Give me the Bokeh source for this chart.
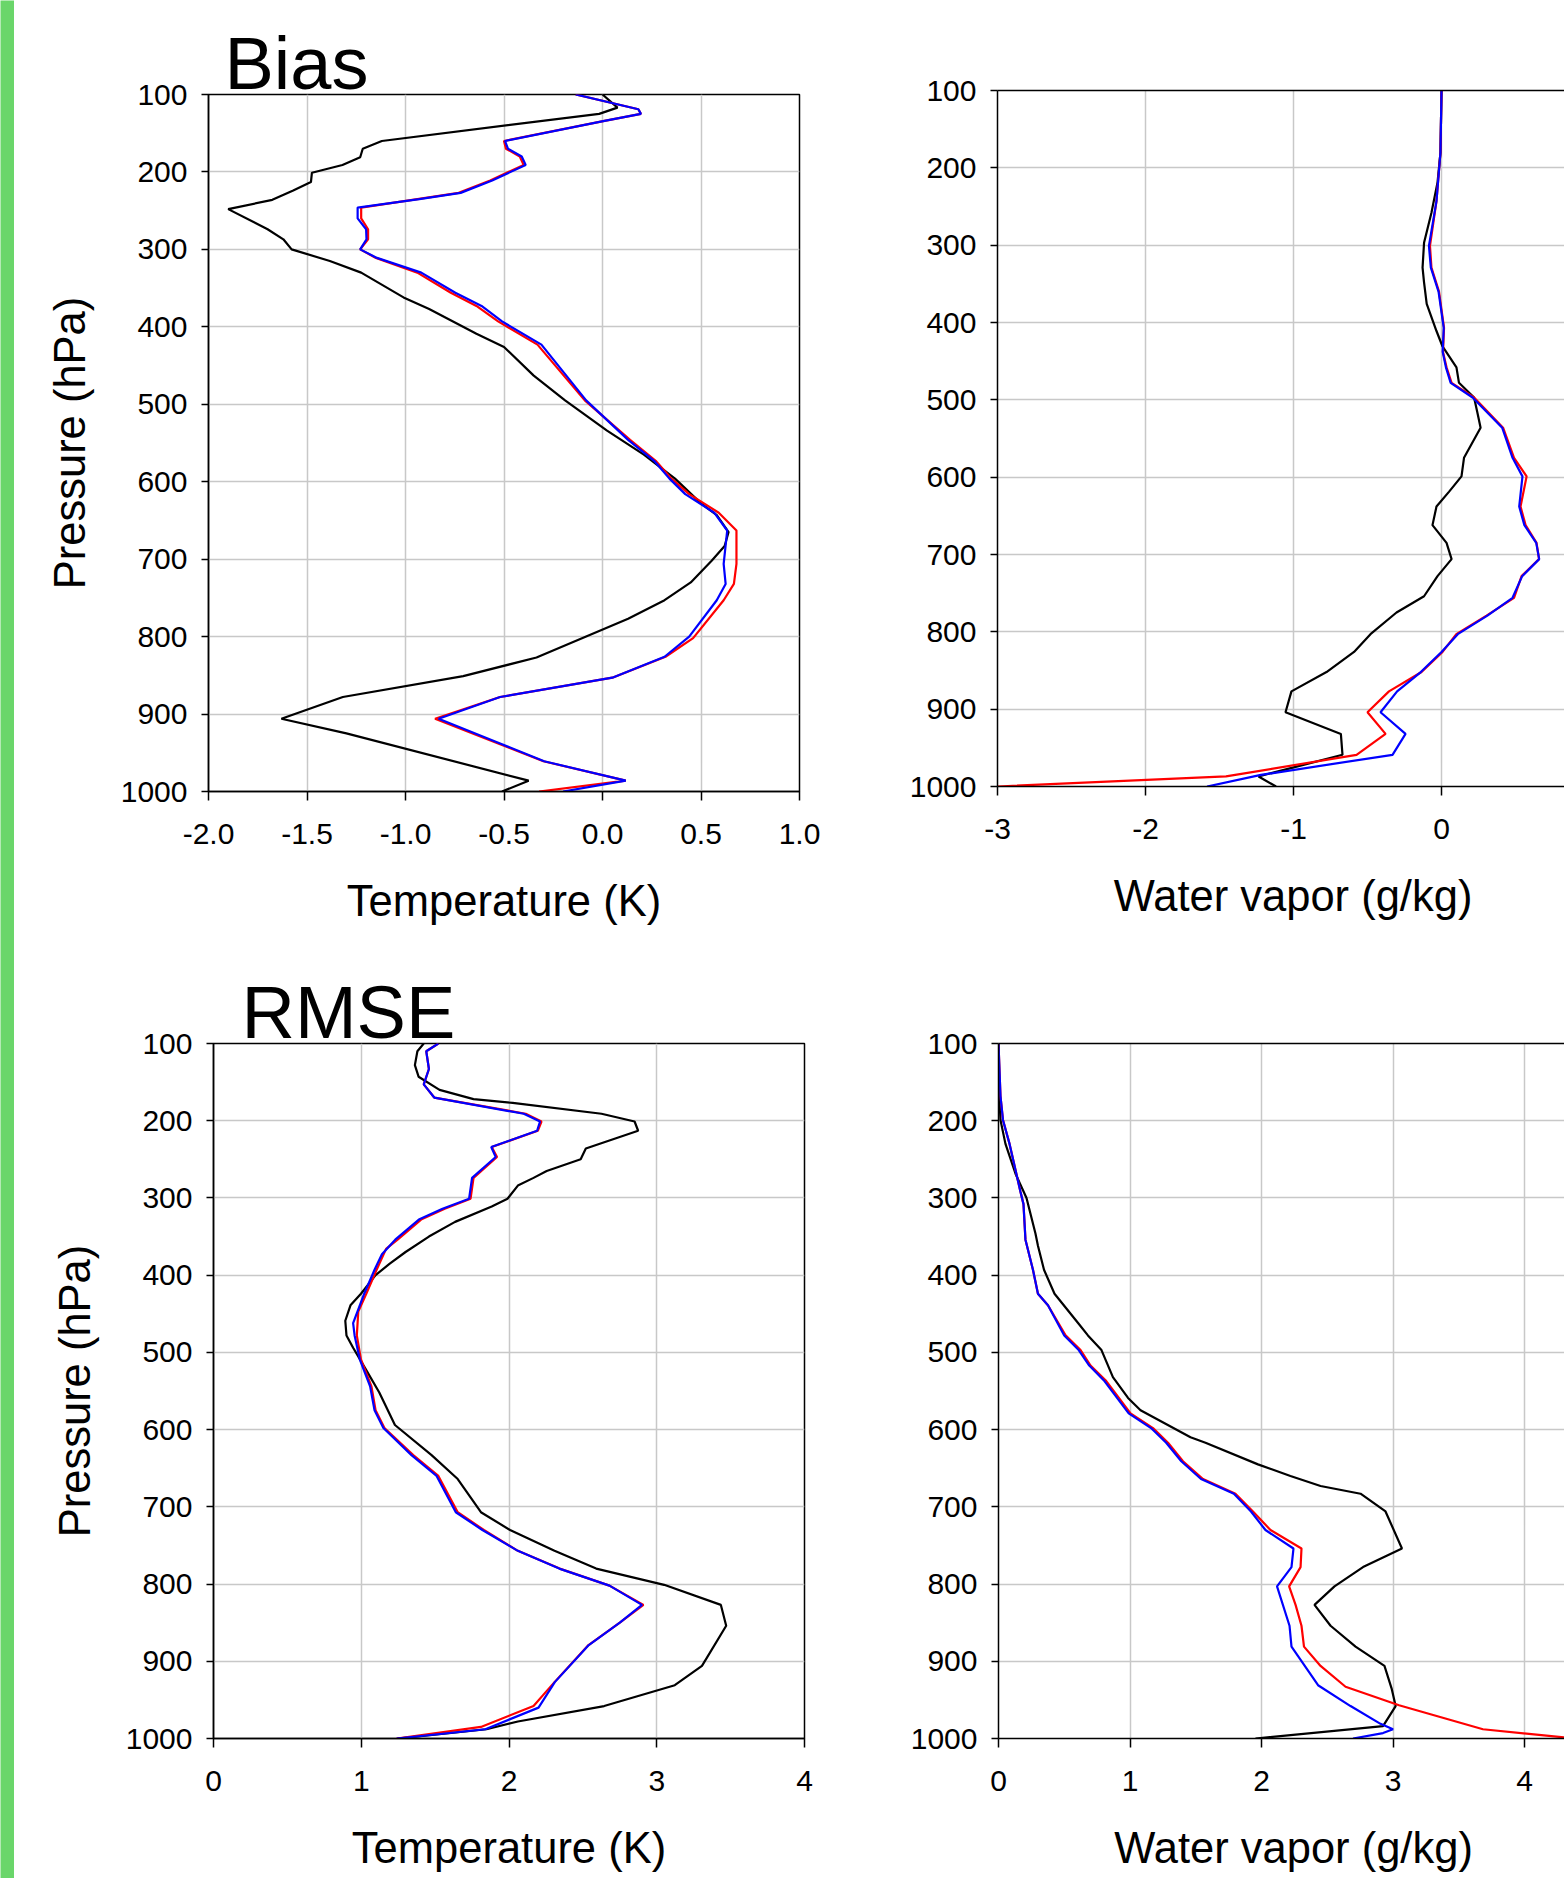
from bokeh.plotting import figure
from bokeh.models import Range1d, FixedTicker, LinearAxis, PrintfTickFormatter
from bokeh.layouts import row, column
from bokeh.embed import file_html
from bokeh.resources import INLINE

FONT = "Liberation Sans"
P_TICKS = [100, 200, 300, 400, 500, 600, 700, 800, 900, 1000]

# ---------------- Bias, temperature (K) ----------------
bt_black_p = [100, 117, 125, 160, 170, 181, 191, 201, 213, 224, 236, 248, 274, 287, 300, 315, 330, 362, 377, 409, 426, 463, 495, 534, 565, 596, 628, 643, 665, 683, 702, 730, 753, 777, 800, 827, 851, 878, 906, 925, 986, 1000]
bt_black_x = [0.0, 0.076, -0.017, -1.12, -1.217, -1.23, -1.32, -1.475, -1.48, -1.57, -1.676, -1.90, -1.70, -1.62, -1.578, -1.384, -1.225, -1.01, -0.88, -0.64, -0.50, -0.349, -0.19, 0.023, 0.21, 0.368, 0.50, 0.58, 0.64, 0.62, 0.554, 0.448, 0.315, 0.13, -0.083, -0.335, -0.707, -1.318, -1.63, -1.30, -0.375, -0.51]
bt_red_p = [100, 119, 125, 134, 160, 170, 180, 191, 211, 227, 235, 246, 260, 274, 287, 300, 311, 330, 356, 373, 393, 423, 495, 546, 573, 596, 616, 640, 663, 706, 732, 753, 802, 826, 853, 878, 906, 939, 961, 986, 1000]
bt_red_x = [-0.136, 0.182, 0.195, 0.01, -0.50, -0.49, -0.42, -0.40, -0.57, -0.73, -0.94, -1.225, -1.225, -1.19, -1.19, -1.23, -1.15, -0.94, -0.77, -0.64, -0.53, -0.33, -0.09, 0.14, 0.27, 0.35, 0.44, 0.59, 0.68, 0.68, 0.667, 0.615, 0.46, 0.32, 0.05, -0.52, -0.85, -0.52, -0.30, 0.118, -0.322]
bt_blue_p = [100, 119, 125, 134, 160, 170, 180, 191, 211, 227, 235, 246, 260, 274, 287, 300, 311, 330, 356, 373, 393, 423, 495, 546, 573, 596, 616, 640, 663, 706, 732, 753, 800, 826, 853, 878, 906, 939, 961, 986, 1000]
bt_blue_x = [-0.136, 0.182, 0.195, 0.01, -0.495, -0.48, -0.41, -0.39, -0.56, -0.72, -0.93, -1.243, -1.243, -1.20, -1.198, -1.23, -1.145, -0.92, -0.747, -0.614, -0.51, -0.31, -0.083, 0.13, 0.262, 0.34, 0.42, 0.567, 0.633, 0.615, 0.625, 0.58, 0.44, 0.315, 0.05, -0.52, -0.832, -0.51, -0.296, 0.118, -0.20]

# ---------------- Bias, water vapor (g/kg) ----------------
bq_black_p = [100, 180, 219, 258, 297, 329, 348, 376, 411, 431, 458, 478, 497, 517, 536, 575, 599, 619, 638, 662, 685, 706, 728, 754, 775, 803, 826, 852, 877, 904, 932, 959, 987, 1000]
bq_black_x = [0.0, -0.007, -0.027, -0.068, -0.118, -0.128, -0.118, -0.10, -0.034, 0.007, 0.101, 0.118, 0.22, 0.243, 0.264, 0.152, 0.135, 0.05, -0.034, -0.061, 0.034, 0.068, -0.027, -0.118, -0.304, -0.48, -0.591, -0.777, -1.014, -1.054, -0.68, -0.669, -1.236, -1.118]
bq_red_p = [100, 180, 243, 301, 329, 360, 407, 438, 458, 478, 497, 536, 575, 599, 638, 662, 685, 706, 728, 756, 779, 803, 826, 852, 877, 904, 932, 959, 987, 1000]
bq_red_x = [0.0, -0.007, -0.034, -0.078, -0.068, -0.017, 0.017, 0.01, 0.034, 0.068, 0.22, 0.416, 0.49, 0.575, 0.534, 0.568, 0.642, 0.659, 0.541, 0.49, 0.304, 0.10, 0.007, -0.135, -0.355, -0.50, -0.378, -0.574, -1.456, -3.0]
bq_blue_p = [100, 180, 243, 301, 329, 360, 407, 438, 458, 478, 497, 536, 575, 599, 638, 662, 685, 706, 728, 756, 779, 803, 826, 852, 877, 904, 932, 959, 985, 1000]
bq_blue_x = [0.0, -0.007, -0.034, -0.085, -0.072, -0.02, 0.015, 0.008, 0.03, 0.062, 0.21, 0.41, 0.48, 0.547, 0.525, 0.56, 0.64, 0.66, 0.545, 0.48, 0.31, 0.11, 0.0, -0.14, -0.30, -0.412, -0.243, -0.331, -1.22, -1.584]

# ---------------- RMSE, temperature (K) ----------------
rt_black_p = [100, 110, 128, 143, 160, 172, 177, 191, 201, 213, 236, 250, 265, 274, 284, 301, 311, 331, 350, 370, 385, 400, 424, 439, 459, 478, 494, 523, 552, 594, 633, 664, 707, 730, 757, 780, 801, 827, 854, 906, 931, 958, 978, 988, 1000]
rt_black_x = [1.423, 1.38, 1.363, 1.388, 1.53, 1.76, 2.025, 2.626, 2.85, 2.874, 2.52, 2.485, 2.255, 2.166, 2.06, 1.99, 1.883, 1.635, 1.458, 1.30, 1.193, 1.097, 0.998, 0.927, 0.892, 0.90, 0.945, 1.034, 1.122, 1.228, 1.476, 1.653, 1.81, 2.007, 2.308, 2.59, 3.05, 3.434, 3.47, 3.306, 3.122, 2.644, 2.06, 1.848, 1.25]
rt_red_p = [100, 110, 133, 153, 170, 191, 201, 213, 234, 247, 274, 301, 314, 328, 354, 366, 393, 424, 447, 478, 509, 544, 575, 598, 633, 660, 707, 730, 757, 780, 802, 827, 850, 879, 927, 958, 985, 1000]
rt_red_x = [1.522, 1.44, 1.458, 1.423, 1.494, 2.113, 2.22, 2.195, 1.883, 1.919, 1.76, 1.74, 1.565, 1.405, 1.246, 1.168, 1.104, 1.034, 0.98, 0.97, 0.998, 1.069, 1.097, 1.157, 1.352, 1.522, 1.653, 1.83, 2.06, 2.343, 2.68, 2.91, 2.75, 2.538, 2.308, 2.166, 1.81, 1.24]
rt_blue_p = [100, 110, 133, 153, 170, 191, 201, 213, 234, 247, 274, 301, 314, 328, 354, 373, 393, 424, 462, 478, 509, 544, 575, 598, 633, 660, 707, 730, 757, 780, 802, 827, 850, 879, 927, 960, 988, 1000]
rt_blue_x = [1.522, 1.44, 1.458, 1.423, 1.494, 2.10, 2.21, 2.19, 1.88, 1.91, 1.75, 1.73, 1.55, 1.39, 1.23, 1.14, 1.09, 1.02, 0.945, 0.955, 0.99, 1.06, 1.09, 1.15, 1.34, 1.51, 1.64, 1.82, 2.06, 2.34, 2.68, 2.90, 2.75, 2.54, 2.31, 2.20, 1.84, 1.24]

# ---------------- RMSE, water vapor (g/kg) ----------------
rq_black_p = [100, 160, 199, 230, 269, 300, 346, 362, 393, 424, 462, 478, 497, 532, 559, 575, 610, 617, 645, 660, 673, 683, 706, 754, 778, 803, 827, 854, 881, 906, 935, 958, 984, 1000]
rq_black_x = [0.0, 0.004, 0.015, 0.053, 0.13, 0.213, 0.281, 0.30, 0.346, 0.426, 0.605, 0.68, 0.783, 0.87, 0.985, 1.08, 1.46, 1.574, 1.973, 2.22, 2.449, 2.753, 2.943, 3.068, 2.772, 2.555, 2.403, 2.525, 2.715, 2.935, 2.989, 3.02, 2.924, 1.954]
rq_red_p = [100, 168, 199, 230, 292, 308, 354, 393, 424, 439, 478, 497, 517, 536, 579, 598, 617, 641, 664, 683, 706, 730, 754, 778, 803, 827, 854, 881, 906, 933, 957, 988, 1000]
rq_red_x = [0.0, 0.015, 0.034, 0.084, 0.167, 0.19, 0.205, 0.262, 0.30, 0.376, 0.51, 0.624, 0.70, 0.814, 1.004, 1.175, 1.289, 1.403, 1.555, 1.802, 1.935, 2.068, 2.304, 2.297, 2.21, 2.259, 2.304, 2.323, 2.449, 2.639, 3.046, 3.684, 4.38]
rq_blue_p = [100, 168, 199, 230, 292, 308, 354, 393, 424, 439, 478, 497, 517, 536, 579, 598, 617, 641, 664, 683, 706, 730, 754, 778, 803, 854, 881, 931, 958, 981, 988, 993, 1000]
rq_blue_x = [0.0, 0.015, 0.034, 0.084, 0.167, 0.19, 0.205, 0.262, 0.30, 0.376, 0.50, 0.61, 0.69, 0.80, 0.99, 1.16, 1.275, 1.39, 1.54, 1.79, 1.92, 2.03, 2.243, 2.228, 2.118, 2.213, 2.228, 2.43, 2.677, 2.905, 3.0, 2.924, 2.696]

GRID = "#c8c8c8"
NB = "\u00a0\u00a0"  # pads the label so it centres on the full (uncropped) frame


def make_panel(width, height, borders, xr, xticks, xfmt, xlabel, ylabel, series,
               title=None, title_offset=0, closed=True):
    left, right, top, bottom = borders
    p = figure(width=width, height=height, x_range=Range1d(*xr), y_range=Range1d(1000, 100),
               output_backend="svg", toolbar_location=None,
               min_border_left=left, min_border_right=right,
               min_border_top=top, min_border_bottom=bottom)
    p.background_fill_color = "white"
    p.border_fill_color = "white"
    p.outline_line_color = "black" if closed else None
    p.outline_line_width = 1.5

    p.xaxis.ticker = FixedTicker(ticks=xticks)
    p.xaxis.formatter = PrintfTickFormatter(format=xfmt)
    p.yaxis.ticker = FixedTicker(ticks=P_TICKS)
    for ax in (p.xaxis[0], p.yaxis[0]):
        ax.axis_line_color = "black"
        ax.axis_line_width = 1.5
        ax.major_tick_line_color = "black"
        ax.major_tick_line_width = 1.5
        ax.minor_tick_line_color = None
        ax.major_tick_in = 0
        ax.major_label_text_font = FONT
        ax.major_label_text_font_size = "30px"
        ax.major_label_text_color = "black"
        ax.axis_label_text_font = FONT
        ax.axis_label_text_font_size = "43.5px"
        ax.axis_label_text_font_style = "normal"
        ax.axis_label_text_color = "black"
    p.xaxis.major_tick_out = 9
    p.xaxis.major_label_standoff = 23
    p.xaxis.axis_label = xlabel
    p.xaxis.axis_label_standoff = 30
    p.yaxis.major_tick_out = 7
    p.yaxis.major_label_standoff = 14
    if ylabel:
        p.yaxis.axis_label = ylabel
        p.yaxis.axis_label_standoff = 24

    p.xgrid.ticker = FixedTicker(ticks=xticks)
    p.ygrid.ticker = FixedTicker(ticks=P_TICKS)
    p.xgrid.grid_line_color = GRID
    p.ygrid.grid_line_color = GRID
    p.xgrid.grid_line_width = 1.5
    p.ygrid.grid_line_width = 1.5

    if not closed:
        tax = LinearAxis(ticker=FixedTicker(ticks=[]), major_tick_in=0, major_tick_out=0,
                         minor_tick_line_color=None,
                         axis_line_color="black", axis_line_width=1.5, major_label_standoff=0)
        p.add_layout(tax, "above")

    for xs, ps, col in series:
        p.line(xs, ps, line_color=col, line_width=2.2)

    if title:
        p.title.text = title
        p.title.text_font = FONT
        p.title.text_font_size = "74px"
        p.title.text_font_style = "normal"
        p.title.text_color = "black"
        p.title.align = "left"
        p.title.offset = title_offset
        p.title.standoff = -20
        p.title.vertical_align = "bottom"
    return p


tl = make_panel(846, 950, (194, 61, 94, 159), (-2.0, 1.0), [-2.0, -1.5, -1.0, -0.5, 0.0, 0.5, 1.0], "%.1f",
                "Temperature (K)", "Pressure (hPa)",
                [(bt_black_x, bt_black_p, "black"), (bt_red_x, bt_red_p, "red"), (bt_blue_x, bt_blue_p, "blue")],
                title="Bias", title_offset=16)
tr = make_panel(704, 950, (137, 0, 90, 164), (-3.0, 0.831), [-3, -2, -1, 0], "%d",
                NB + "Water vapor (g/kg)", None,
                [(bq_black_x, bq_black_p, "black"), (bq_red_x, bq_red_p, "red"), (bq_blue_x, bq_blue_p, "blue")],
                closed=False)
bl = make_panel(846, 928, (199, 56, 93, 140), (0.0, 4.0), [0, 1, 2, 3, 4], "%d",
                "Temperature (K)", "Pressure (hPa)",
                [(rt_black_x, rt_black_p, "black"), (rt_red_x, rt_red_p, "red"), (rt_blue_x, rt_blue_p, "blue")],
                title="RMSE", title_offset=28)
br = make_panel(704, 928, (138, 0, 93, 140), (0.0, 4.304), [0, 1, 2, 3, 4], "%d",
                NB + "Water vapor (g/kg)", None,
                [(rq_black_x, rq_black_p, "black"), (rq_red_x, rq_red_p, "red"), (rq_blue_x, rq_blue_p, "blue")],
                closed=False)

green = figure(width=14, height=1878, output_backend="svg", toolbar_location=None,
               min_border_left=0, min_border_right=0, min_border_top=0, min_border_bottom=0,
               x_axis_type=None, y_axis_type=None)
green.background_fill_color = "#6ad66a"
green.border_fill_color = "#6ad66a"
green.outline_line_color = None
green.grid.visible = False

layout = row(green, column(row(column(tl), column(tr)), row(column(bl), column(br))))

open("out.html", "w").write(file_html(layout, INLINE))
